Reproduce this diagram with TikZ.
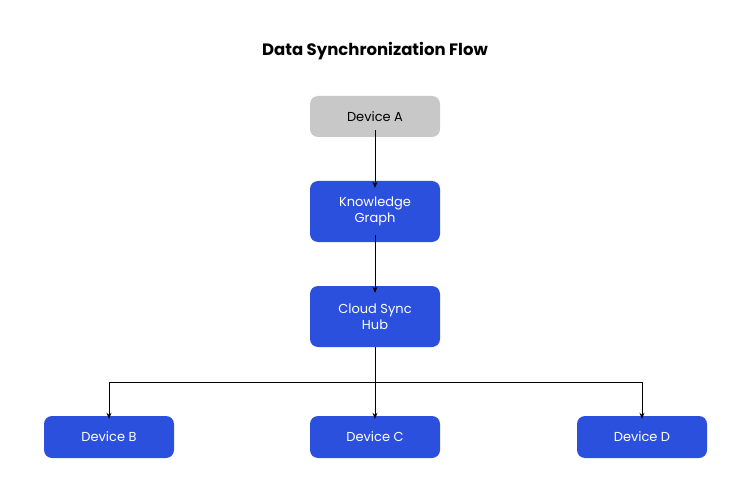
\documentclass[tikz,border=0pt]{standalone}
\usepackage{fontspec}
\setmainfont{Poppins}
\usetikzlibrary{arrows.meta}
\definecolor{blu}{HTML}{2B50DE}
\definecolor{gry}{HTML}{C8C8C8}
\begin{document}
\begin{tikzpicture}[x=1pt,y=-1pt,
  box/.style={rounded corners=8pt,minimum width=130pt,align=center,font=\fontsize{13}{16}\selectfont,inner sep=0pt},
  bl/.style={box,fill=blu,text=white},
  arr/.style={-{Stealth[length=6pt,width=5pt]},line width=0.7pt}]
\useasboundingbox (0,0) rectangle (750,500);
\node[font=\fontsize{16.5}{20}\selectfont\bfseries] (t) at (375,51) {Data Synchronization Flow};
\node[box,fill=gry,minimum height=41pt] (a) at (375,116.5) {Device A};
\node[bl,minimum height=61pt] (k) at (375,211.5) {Knowledge\\Graph};
\node[bl,minimum height=61pt] (h) at (375,316.5) {Cloud Sync\\Hub};
\node[bl,minimum height=42pt] (b) at (109,437) {Device B};
\node[bl,minimum height=42pt] (c) at (375,437) {Device C};
\node[bl,minimum height=42pt] (d) at (642,437) {Device D};
\draw[arr] ([yshift=7pt]a.south) -- ([yshift=-7pt]k.north);
\draw[arr] ([yshift=7pt]k.south) -- ([yshift=-7pt]h.north);
\draw[arr] (h.south) -- ([yshift=-3pt]c.north);
\draw[arr] (h.south) ++(0,35) -| ([yshift=-3pt]b.north);
\draw[arr] (h.south) ++(0,35) -| ([yshift=-3pt]d.north);
\end{tikzpicture}
\end{document}
